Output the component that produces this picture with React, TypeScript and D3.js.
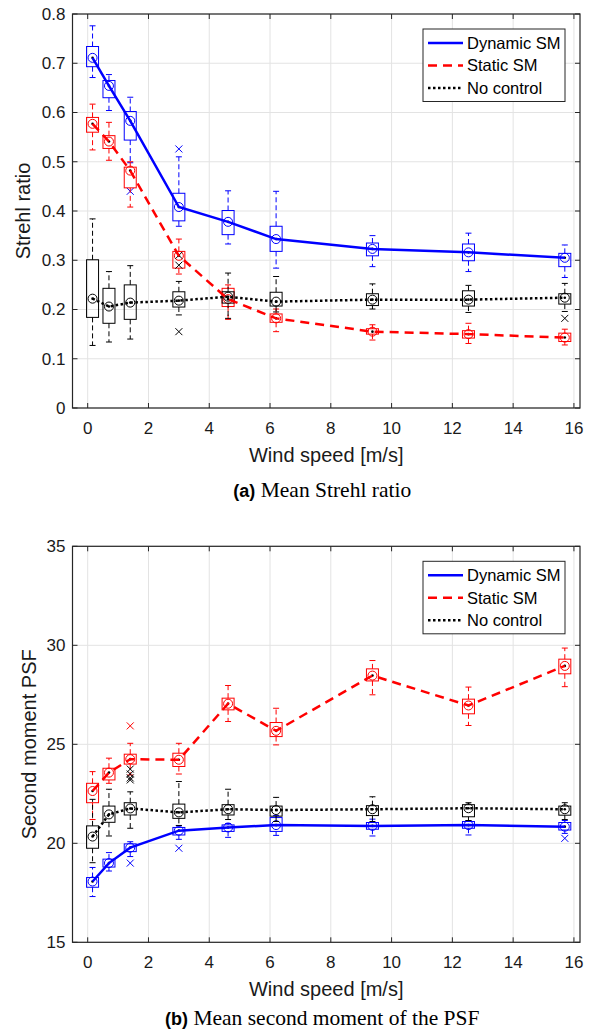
import * as d3 from "d3";

// wind speeds [m/s]
const windSpeed = [0.16, 0.7, 1.4, 3.0, 4.62, 6.2, 9.37, 12.53, 15.7];
const xTicks = [0, 2, 4, 6, 8, 10, 12, 14, 16];
const seriesNames = ["Dynamic SM", "Static SM", "No control"];

// (a) Strehl ratio – box statistics per wind speed
const strehlDynMed = [0.711, 0.654, 0.583, 0.408, 0.378, 0.343, 0.323, 0.316, 0.305];
const strehlDynQ1 = [0.693, 0.63, 0.544, 0.38, 0.352, 0.318, 0.309, 0.299, 0.287];
const strehlDynQ3 = [0.734, 0.665, 0.602, 0.436, 0.401, 0.369, 0.335, 0.333, 0.314];
const strehlDynLo = [0.671, 0.604, 0.498, 0.369, 0.333, 0.284, 0.287, 0.277, 0.265];
const strehlDynHi = [0.776, 0.677, 0.631, 0.51, 0.441, 0.44, 0.35, 0.355, 0.331];
const strehlDynOut = [[], [], [0.44], [0.526], [], [], [], [], []];

const strehlStatMed = [0.577, 0.541, 0.482, 0.309, 0.221, 0.182, 0.155, 0.15, 0.143];
const strehlStatQ1 = [0.56, 0.527, 0.447, 0.284, 0.206, 0.174, 0.15, 0.142, 0.135];
const strehlStatQ3 = [0.59, 0.553, 0.489, 0.318, 0.243, 0.191, 0.161, 0.157, 0.152];
const strehlStatLo = [0.524, 0.503, 0.408, 0.272, 0.18, 0.155, 0.138, 0.131, 0.128];
const strehlStatHi = [0.617, 0.58, 0.5, 0.343, 0.25, 0.201, 0.169, 0.172, 0.16];
const strehlStatOut = [[], [], [], [], [], [], [], [], []];

const strehlNoneMed = [0.222, 0.206, 0.214, 0.218, 0.226, 0.216, 0.22, 0.22, 0.224];
const strehlNoneQ1 = [0.184, 0.172, 0.18, 0.205, 0.213, 0.207, 0.208, 0.207, 0.211];
const strehlNoneQ3 = [0.301, 0.243, 0.25, 0.236, 0.236, 0.235, 0.232, 0.238, 0.232];
const strehlNoneLo = [0.127, 0.134, 0.14, 0.189, 0.182, 0.195, 0.201, 0.194, 0.196];
const strehlNoneHi = [0.384, 0.277, 0.289, 0.257, 0.274, 0.267, 0.252, 0.249, 0.253];
const strehlNoneOut = [[], [], [], [0.31, 0.29, 0.155], [], [], [], [], [0.182]];

// (b) second moment of the PSF
const momentDynMed = [18.07, 19.0, 19.78, 20.64, 20.8, 20.92, 20.88, 20.92, 20.84];
const momentDynQ1 = [17.78, 18.8, 19.58, 20.42, 20.6, 20.6, 20.71, 20.76, 20.67];
const momentDynQ3 = [18.27, 19.2, 19.97, 20.8, 20.93, 21.3, 21.05, 21.1, 21.05];
const momentDynLo = [17.31, 18.6, 19.33, 20.2, 20.3, 20.4, 20.37, 20.42, 20.5];
const momentDynHi = [18.78, 19.53, 20.08, 20.9, 21.0, 21.4, 21.22, 21.15, 21.15];
const momentDynOut = [[], [], [19.0], [19.75], [], [], [], [], [20.25]];

const momentStatMed = [22.64, 23.57, 24.25, 24.22, 27.05, 25.68, 28.47, 26.96, 28.96];
const momentStatQ1 = [22.05, 23.2, 24.0, 23.88, 26.74, 25.39, 28.2, 26.54, 28.56];
const momentStatQ3 = [23.03, 23.79, 24.5, 24.55, 27.33, 26.1, 28.81, 27.28, 29.3];
const momentStatLo = [21.2, 23.03, 23.45, 23.5, 26.15, 24.97, 27.5, 25.95, 27.91];
const momentStatHi = [23.62, 24.3, 25.05, 25.05, 27.97, 26.82, 29.23, 27.89, 29.86];
const momentStatOut = [[], [], [25.93], [], [], [], [], [], []];

const momentNoneMed = [20.34, 21.46, 21.76, 21.56, 21.72, 21.68, 21.72, 21.77, 21.72];
const momentNoneQ1 = [19.75, 21.06, 21.43, 21.26, 21.43, 21.37, 21.4, 21.34, 21.42];
const momentNoneQ3 = [20.88, 21.88, 22.05, 21.98, 21.95, 21.88, 21.9, 21.95, 21.88];
const momentNoneLo = [19.02, 20.37, 20.76, 20.9, 21.2, 21.1, 21.1, 21.15, 21.2];
const momentNoneHi = [22.22, 22.73, 22.6, 23.12, 22.73, 22.32, 22.35, 22.05, 22.05];
const momentNoneOut = [[], [], [23.2, 23.3, 23.5, 23.75], [], [], [], [], [], []];

const strehlTicks = [0, 0.1, 0.2, 0.3, 0.4, 0.5, 0.6, 0.7, 0.8];
const momentTicks = [15, 20, 25, 30, 35];

const SANS = "'Liberation Sans', Arial, Helvetica, sans-serif";
const SERIF = "'Liberation Serif', 'DejaVu Serif', serif";
const colors = ["#0000ff", "#ff0000", "#000000"];
const dashes = ["none", "9,6", "2.5,2.5"];

const X_LEFT = 72.5;
const X_RIGHT = 580;
const x = d3.scaleLinear().domain([-0.5, 16.2]).range([X_LEFT, X_RIGHT]);

type Stats = { med: number[]; q1: number[]; q3: number[]; lo: number[]; hi: number[]; out: number[][] };

function Boxes({ s, y, color }: { s: Stats; y: d3.ScaleLinear<number, number>; color: string }) {
  const bw = 6;
  return (
    <g>
      {windSpeed.map((w, i) => {
        const cx = x(w);
        return (
          <g key={i}>
            <line x1={cx} x2={cx} y1={y(s.q3[i])} y2={y(s.hi[i])} stroke={color} strokeWidth={1} strokeDasharray="5,3" />
            <line x1={cx} x2={cx} y1={y(s.q1[i])} y2={y(s.lo[i])} stroke={color} strokeWidth={1} strokeDasharray="5,3" />
            <line x1={cx - 3} x2={cx + 3} y1={y(s.hi[i])} y2={y(s.hi[i])} stroke={color} strokeWidth={1} />
            <line x1={cx - 3} x2={cx + 3} y1={y(s.lo[i])} y2={y(s.lo[i])} stroke={color} strokeWidth={1} />
            <rect x={cx - bw} y={y(s.q3[i])} width={bw * 2} height={y(s.q1[i]) - y(s.q3[i])} fill="none" stroke={color} strokeWidth={1} />
            {s.out[i].map((o, j) => (
              <path key={j} d={`M${cx - 3.5},${y(o) - 3.5}L${cx + 3.5},${y(o) + 3.5}M${cx - 3.5},${y(o) + 3.5}L${cx + 3.5},${y(o) - 3.5}`} stroke={color} strokeWidth={1} />
            ))}
            <circle cx={cx} cy={y(s.med[i])} r={4.5} fill="none" stroke={color} strokeWidth={1} />
            <circle cx={cx} cy={y(s.med[i])} r={1.3} fill="#000" />
          </g>
        );
      })}
    </g>
  );
}

function Panel(props: {
  top: number; bottom: number; domain: [number, number]; ticks: number[]; fmt: (v: number) => string;
  yLabel: string; yLabelX: number; tag: string; caption: string; captionY: number; series: Stats[];
}) {
  const { top, bottom, domain, ticks, fmt, yLabel, yLabelX, tag, caption, captionY, series } = props;
  const y = d3.scaleLinear().domain(domain).range([bottom, top]);
  const line = d3.line<number>().x((_, i) => x(windSpeed[i])).y((d) => y(d));
  const midX = (X_LEFT + X_RIGHT) / 2;
  const lgTop = top + 15;
  return (
    <g>
      {xTicks.map((t) => (
        <line key={"gx" + t} x1={x(t)} x2={x(t)} y1={top} y2={bottom} stroke="#e3e3e3" strokeWidth={1} />
      ))}
      {ticks.map((t) => (
        <line key={"gy" + t} x1={X_LEFT} x2={X_RIGHT} y1={y(t)} y2={y(t)} stroke="#e3e3e3" strokeWidth={1} />
      ))}
      {series.map((s, k) => (
        <Boxes key={k} s={s} y={y} color={colors[k]} />
      ))}
      {series.map((s, k) => (
        <path key={"l" + k} d={line(s.med) || ""} fill="none" stroke={colors[k]} strokeWidth={2.5} strokeDasharray={dashes[k]} />
      ))}
      <rect x={X_LEFT} y={top} width={X_RIGHT - X_LEFT} height={bottom - top} fill="none" stroke="#262626" strokeWidth={1.2} />
      {xTicks.map((t) => (
        <g key={"tx" + t}>
          <line x1={x(t)} x2={x(t)} y1={bottom} y2={bottom - 5} stroke="#262626" />
          <line x1={x(t)} x2={x(t)} y1={top} y2={top + 5} stroke="#262626" />
          <text x={x(t)} y={bottom + 26} textAnchor="middle" fontSize={17} fontFamily={SANS} fill="#1a1a1a">{t}</text>
        </g>
      ))}
      {ticks.map((t) => (
        <g key={"ty" + t}>
          <line x1={X_LEFT} x2={X_LEFT + 5} y1={y(t)} y2={y(t)} stroke="#262626" />
          <line x1={X_RIGHT} x2={X_RIGHT - 5} y1={y(t)} y2={y(t)} stroke="#262626" />
          <text x={X_LEFT - 7} y={y(t)} dy="0.35em" textAnchor="end" fontSize={17} fontFamily={SANS} fill="#1a1a1a">{fmt(t)}</text>
        </g>
      ))}
      <text x={midX} y={bottom + 54} textAnchor="middle" fontSize={20} fontFamily={SANS} fill="#1a1a1a">Wind speed [m/s]</text>
      <text transform={`translate(${yLabelX},${(top + bottom) / 2}) rotate(-90)`} textAnchor="middle" fontSize={20} fontFamily={SANS} fill="#1a1a1a">{yLabel}</text>
      <text x={midX - 4} y={captionY} textAnchor="middle" fill="#000">
        <tspan fontFamily={SANS} fontWeight="bold" fontSize={18}>{tag}</tspan>
        <tspan fontFamily={SERIF} fontSize={21.5}> {caption}</tspan>
      </text>
      <g>
        <rect x={423} y={lgTop} width={142} height={72.5} fill="#fff" stroke="#262626" strokeWidth={1} />
        {seriesNames.map((n, k) => (
          <g key={n}>
            <line x1={428} x2={463} y1={lgTop + 14 + k * 22.5} y2={lgTop + 14 + k * 22.5} stroke={colors[k]} strokeWidth={2.5} strokeDasharray={dashes[k]} />
            <text x={467} y={lgTop + 14 + k * 22.5} dy="0.35em" fontSize={16.5} fontFamily={SANS} fill="#000">{n}</text>
          </g>
        ))}
      </g>
    </g>
  );
}

export default function App() {
  const strehl: Stats[] = [
    { med: strehlDynMed, q1: strehlDynQ1, q3: strehlDynQ3, lo: strehlDynLo, hi: strehlDynHi, out: strehlDynOut },
    { med: strehlStatMed, q1: strehlStatQ1, q3: strehlStatQ3, lo: strehlStatLo, hi: strehlStatHi, out: strehlStatOut },
    { med: strehlNoneMed, q1: strehlNoneQ1, q3: strehlNoneQ3, lo: strehlNoneLo, hi: strehlNoneHi, out: strehlNoneOut },
  ];
  const moment: Stats[] = [
    { med: momentDynMed, q1: momentDynQ1, q3: momentDynQ3, lo: momentDynLo, hi: momentDynHi, out: momentDynOut },
    { med: momentStatMed, q1: momentStatQ1, q3: momentStatQ3, lo: momentStatLo, hi: momentStatHi, out: momentStatOut },
    { med: momentNoneMed, q1: momentNoneQ1, q3: momentNoneQ3, lo: momentNoneLo, hi: momentNoneHi, out: momentNoneOut },
  ];
  return (
    <svg width={597} height={1032} style={{ position: "absolute", left: 0, top: 0, background: "#fff" }}>
      <Panel top={14} bottom={408} domain={[0, 0.8]} ticks={strehlTicks} fmt={(v) => (v === 0 ? "0" : d3.format(".1f")(v))}
        yLabel="Strehl ratio" yLabelX={30} tag="(a)" caption="Mean Strehl ratio" captionY={497} series={strehl} />
      <Panel top={546.3} bottom={942.3} domain={[15, 35]} ticks={momentTicks} fmt={(v) => String(v)}
        yLabel="Second moment PSF" yLabelX={36} tag="(b)" caption="Mean second moment of the PSF" captionY={1025} series={moment} />
    </svg>
  );
}
